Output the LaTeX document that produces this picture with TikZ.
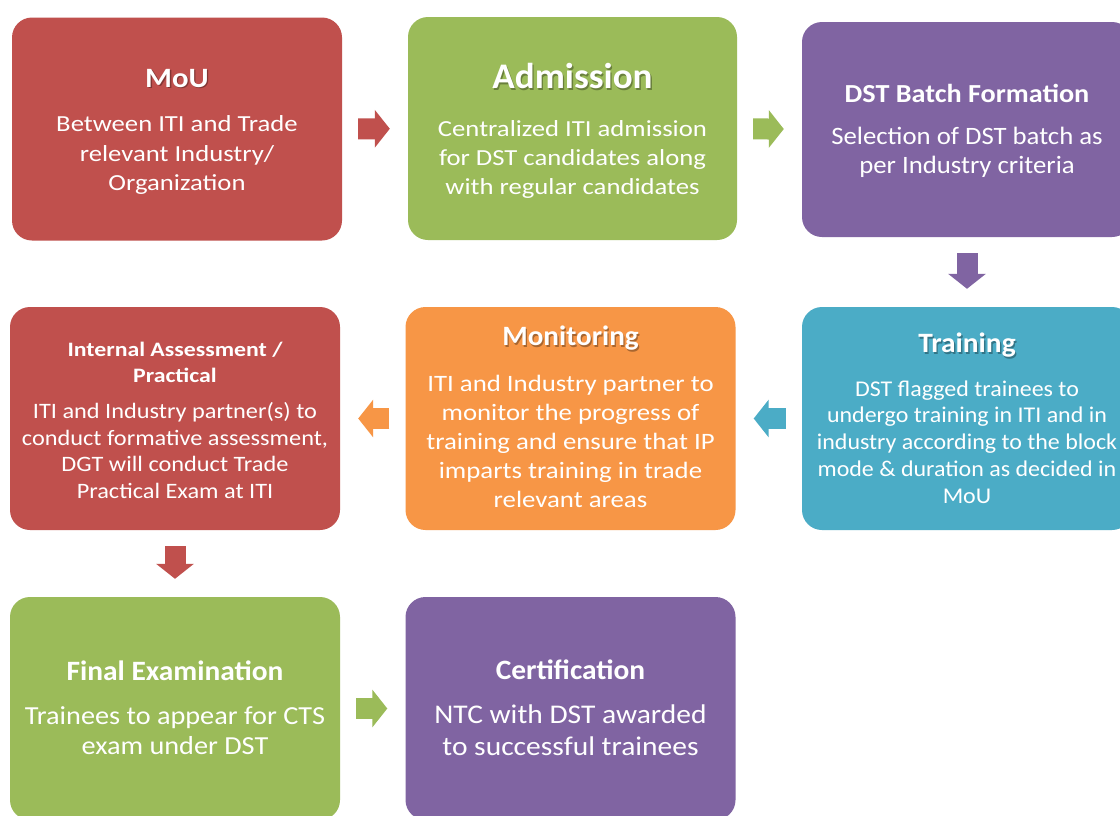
\documentclass[tikz,border=0pt]{standalone}
\usepackage{fontspec}
\setmainfont{Carlito}
\usepackage{tikz}
\usetikzlibrary{arrows.meta}
\definecolor{brick}{HTML}{C0504D}
\definecolor{leaf}{HTML}{9BBB59}
\definecolor{plum}{HTML}{8064A2}
\definecolor{sky}{HTML}{4BACC6}
\definecolor{tangerine}{HTML}{F79646}

% soft shadow behind a title
\newcommand\dropshade[2]{\makebox[0pt][l]{\kern1.3pt\raisebox{-1.3pt}{\textcolor{#1}{#2}}}#2}

\tikzset{
  stage/.style={rounded corners=20pt, minimum width=330pt, minimum height=223pt, inner sep=0pt},
  head/.style n args={3}{text=white, align=center, inner sep=0pt, font=\bfseries\fontsize{#1}{#2}\selectfont\addfontfeature{FakeStretch=#3}},
  body/.style n args={3}{text=white, align=center, inner sep=0pt, font=\fontsize{#1}{#2}\selectfont\addfontfeature{FakeStretch=#3}},
  flow/.style={line width=21pt, shorten <=16pt, shorten >=18pt, -{Triangle[length=15pt, width=37pt]}}
}

\begin{document}
\begin{tikzpicture}[x=1pt, y=-1pt]
\path[use as bounding box, fill=white] (0,0) rectangle (1120,815);

% Stage boxes
\node[stage, fill=brick] (mou) at (177,129) {};
\node[stage, fill=leaf, minimum width=329pt] (adm) at (572.5,128.5) {};
\node[stage, fill=plum, minimum height=215pt] (batch) at (967,129.5) {};
\node[stage, fill=sky] (train) at (967,418.5) {};
\node[stage, fill=tangerine] (moni) at (570.5,418.5) {};
\node[stage, fill=brick] (ia) at (175,418.5) {};
\node[stage, fill=leaf] (fin) at (175,708.5) {};
\node[stage, fill=plum] (cert) at (570.5,708.5) {};

% Titles
\node[head={28}{34}{1.1}] (mou-t) at (177,79) {\dropshade{brick!68!black}{MoU}};
\node[head={36}{43}{1.03}] (adm-t) at (572.5,77) {\dropshade{leaf!68!black}{Admission}};
\node[head={26}{31}{1.085}] (batch-t) at (967,93) {DST Batch Formation};
\node[head={28}{34}{1.05}] (train-t) at (967,346) {\dropshade{sky!68!black}{Training}};
\node[head={28}{34}{1.04}] (moni-t) at (570.5,339) {\dropshade{tangerine!68!black}{Monitoring}};
\node[head={20.5}{26}{1.16}] (ia-t) at (175,362) {Internal Assessment /\\Practical};
\node[head={28}{34}{1.05}] (fin-t) at (175,671) {Final Examination};
\node[head={28}{34}{1.05}] (cert-t) at (570.5,670) {Certification};

% Descriptions
\node[body={23}{29.5}{1.16}] (mou-d) at (177,155) {Between ITI and Trade\\relevant Industry/\\Organization};
\node[body={23}{29}{1.16}] (adm-d) at (572.5,159) {Centralized ITI admission\\for DST candidates along\\with regular candidates};
\node[body={25}{29}{1.07}] (batch-d) at (967,152) {Selection of DST batch as\\per Industry criteria};
\node[body={22.5}{26.8}{1.065}] (train-d) at (967,442) {DST flagged trainees to\\undergo training in ITI and in\\industry according to the block\\mode \& duration as decided in\\MoU};
\node[body={23.5}{29.2}{1.14}] (moni-d) at (570.5,441.5) {ITI and Industry partner to\\monitor the progress of\\training and ensure that IP\\imparts training in trade\\relevant areas};
\node[body={22}{26.5}{1.105}] (ia-d) at (175,450.5) {ITI and Industry partner(s) to\\conduct formative assessment,\\DGT will conduct Trade\\Practical Exam at ITI};
\node[body={26}{30}{1.087}] (fin-d) at (175,731) {Trainees to appear for CTS\\exam under DST};
\node[body={27}{32}{1.093}] (cert-d) at (570.5,730) {NTC with DST awarded\\to successful trainees};

% Block arrows
\draw[flow, brick] (mou) -- (adm);
\draw[flow, leaf] (adm) -- (batch);
\draw[flow, plum] (batch) -- (train);
\draw[flow, sky] (train) -- (moni);
\draw[flow, tangerine] (moni) -- (ia);
\draw[flow, brick] (ia) -- (fin);
\draw[flow, leaf] (fin) -- (cert);
\end{tikzpicture}
\end{document}
